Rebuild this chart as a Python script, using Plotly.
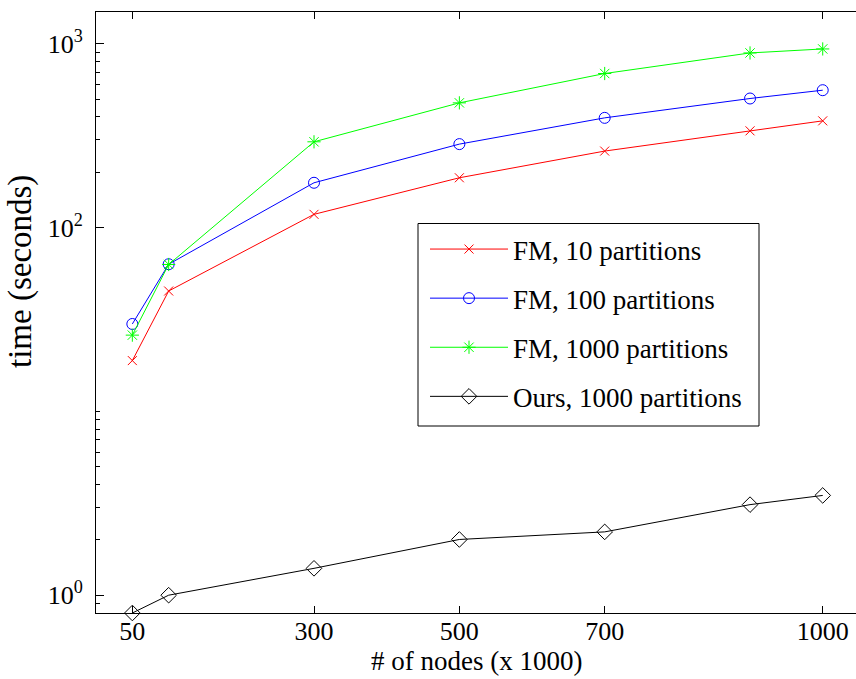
import math
import plotly.graph_objects as go

# ---------------- data ----------------
nodes = [50, 100, 300, 500, 700, 900, 1000]          # x 1000
fm_10 = [18.9, 45.2, 118.1, 186.7, 260.9, 336.2, 381.0]
fm_100 = [29.9, 63.2, 175.4, 284.7, 395.6, 504.1, 559.4]
fm_1000 = [26.0, 63.0, 293.0, 477.3, 689.4, 892.0, 938.0]
ours_1000 = [0.80, 1.00, 1.40, 2.01, 2.21, 3.11, 3.49]

x_ticks = [50, 300, 500, 700, 1000]
y_major = [1, 100, 1000]
y_major_text = ["10<sup>0</sup>", "10<sup>2</sup>", "10<sup>3</sup>"]
y_minor = [0.9, 2, 3, 4, 5, 6, 7, 8, 9, 10, 200, 300, 400, 500, 600, 700, 800, 900]

series = [
    ("FM, 10 partitions", fm_10, "#ff0000", "x-thin-open", 9),
    ("FM, 100 partitions", fm_100, "#0000ff", "circle-open", 11),
    ("FM, 1000 partitions", fm_1000, "#00ff00", "asterisk-open", 11),
    ("Ours, 1000 partitions", ours_1000, "#000000", "diamond-open", 12),
]

FONT = "Liberation Serif, Times New Roman, serif"
PLOT_L, PLOT_T, PLOT_W, PLOT_H = 96, 12, 760, 601


def px_to_paper(px, py):
    return (px - PLOT_L) / PLOT_W, (PLOT_T + PLOT_H - py) / PLOT_H


fig = go.Figure()
for i, (name, vals, color, sym, size) in enumerate(series):
    fig.add_trace(go.Scatter(
        x=nodes, y=vals, name=name, mode="lines+markers",
        line=dict(color=color, width=1),
        marker=dict(symbol=sym, size=size, color=color, line=dict(color=color, width=1)),
        cliponaxis=False, legendgroup=str(i),
    ))

yrange = [math.log10(0.8), math.log10(1490)]

lx, ly = px_to_paper(425, 225)
fig.update_layout(
    width=856, height=679,
    margin=dict(l=PLOT_L, r=0, t=PLOT_T, b=679 - PLOT_T - PLOT_H),
    paper_bgcolor="white", plot_bgcolor="white",
    font=dict(family=FONT, size=26, color="black"),
    showlegend=True,
    legend=dict(
        x=lx, y=ly, xanchor="left", yanchor="top",
        bgcolor="rgba(0,0,0,0)", borderwidth=0,
        font=dict(family=FONT, size=27, color="black"),
        itemwidth=78, tracegroupgap=11,
    ),
    xaxis=dict(
        range=[0, 1045.8], tickmode="array", tickvals=x_ticks,
        ticks="inside", ticklen=7, tickcolor="black", tickwidth=1,
        showline=True, linecolor="black", linewidth=1, mirror="ticks",
        showgrid=False, zeroline=False, ticklabelstandoff=-5,
        tickfont=dict(family=FONT, size=26),
    ),
    yaxis=dict(
        type="log", range=yrange, tickmode="array",
        tickvals=y_major, ticktext=y_major_text,
        ticks="inside", ticklen=8, tickcolor="black", tickwidth=1,
        minor=dict(tickmode="array", tickvals=y_minor, ticks="inside",
                   ticklen=4, tickcolor="black", tickwidth=1, showgrid=False),
        showline=True, linecolor="black", linewidth=1, mirror=False,
        showgrid=False, zeroline=False, ticklabelstandoff=7,
        tickfont=dict(family=FONT, size=26),
    ),
    yaxis2=dict(
        type="log", range=yrange, overlaying="y", side="right", anchor="x",
        tickmode="array", tickvals=y_major, ticks="inside", ticklen=4,
        tickcolor="black", showticklabels=False, showline=False,
        showgrid=False, zeroline=False,
    ),
)

# legend frame
bx0, by0 = px_to_paper(418, 426)
bx1, by1 = px_to_paper(759, 223.5)
fig.add_shape(type="rect", xref="paper", yref="paper", x0=bx0, y0=by0, x1=bx1, y1=by1,
              line=dict(color="black", width=1), fillcolor="rgba(0,0,0,0)", layer="above")

tx, ty = px_to_paper(21, 272)
fig.add_annotation(
    text="time (seconds)", textangle=-90, xref="paper", yref="paper",
    x=tx, y=ty, xanchor="center", yanchor="middle",
    showarrow=False, font=dict(family=FONT, size=33, color="black"),
)
xx, xy = px_to_paper(476, 661)
fig.add_annotation(
    text="# of nodes (x 1000)", xref="paper", yref="paper",
    x=xx, y=xy, xanchor="center", yanchor="middle",
    showarrow=False, font=dict(family=FONT, size=27, color="black"),
)

fig.write_html("out.html")
